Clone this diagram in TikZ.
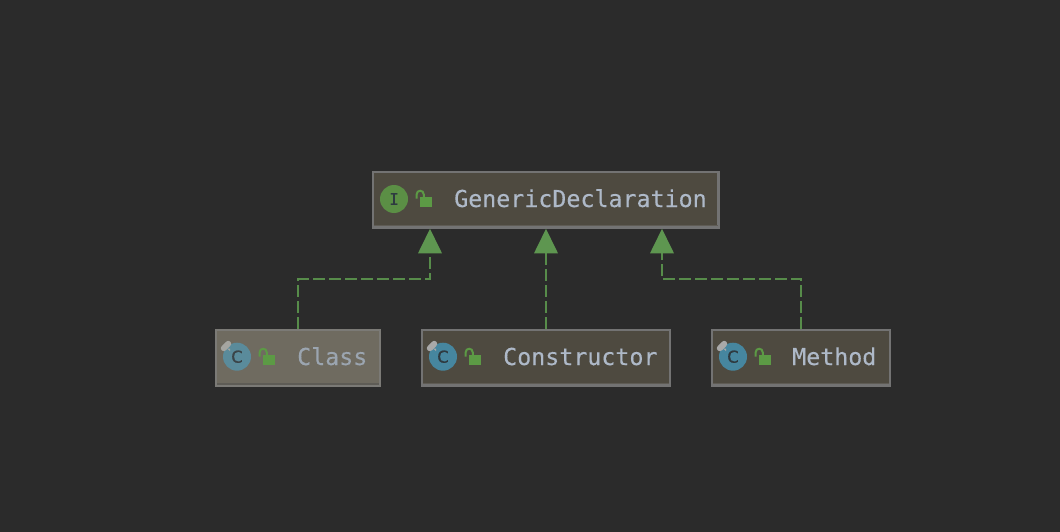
\documentclass[tikz,border=0pt]{standalone}
\usepackage{fontspec}
\setmonofont[FakeBold=0.2]{DejaVu Sans Mono}
\setsansfont[FakeBold=0.4]{DejaVu Sans}
\usetikzlibrary{arrows.meta}
\definecolor{bg}{HTML}{2B2B2B}
\definecolor{boxfill}{HTML}{4E4A40}
\definecolor{boxedge}{HTML}{737373}
\definecolor{boxshadow}{HTML}{5F5C55}
\definecolor{txt}{HTML}{AEB9C8}
\definecolor{grn}{HTML}{5B8F45}
\definecolor{lockgrn}{HTML}{5C9A45}
\definecolor{conn}{HTML}{578C4A}
\definecolor{tipgrn}{HTML}{5E9650}
\definecolor{teal}{HTML}{46869F}
\definecolor{dark}{HTML}{2E3A40}
\definecolor{tag}{HTML}{A9A9A9}
\definecolor{hifill}{HTML}{6F6B60}
\definecolor{hiedge}{HTML}{7B7A76}
\definecolor{hishadow}{HTML}{5E5C56}
\definecolor{hitxt}{HTML}{9BA5B0}
\definecolor{hiteal}{HTML}{5A8B9B}
\definecolor{hitag}{HTML}{A5A5A0}
\definecolor{hidark}{HTML}{3A4448}
\tikzset{
  x=1pt,y=-1pt,
  classbox/.style={draw=boxedge,fill=boxfill,line width=2.3pt,inner sep=0pt,anchor=north west},
  hibox/.style={classbox,draw=hiedge,fill=hifill},
  label/.style={text=txt,font=\fontsize{23.3}{26}\selectfont\ttfamily,inner sep=0pt,anchor=base west},
  hilabel/.style={label,text=hitxt},
  icon/.style={circle,minimum size=28pt,inner sep=0pt,text=dark},
  impl/.style={draw=conn,line width=2.2pt,dash pattern=on 11.8pt off 4.2pt},
}
% lock glyph: body at x..x+12, y..y+10
\newcommand{\lockglyph}[3]{%
  \fill[#3] (#1,#2) rectangle ++(12,10);
  \draw[#3,line width=2pt] (#1-3.4,#2+1.5) -- (#1-3.4,#2-2.5)
    .. controls (#1-3.4,#2-7.5) and (#1+3.8,#2-7.5) .. (#1+3.8,#2-2.5) -- (#1+3.8,#2);
}
\newcommand{\tagglyph}[3]{%
  \draw[#3,line width=6pt,line cap=round] (#1-2.2,#2+2.2) -- (#1+2.2,#2-2.2);
}
\newcommand{\tagnotch}[3]{%
  \fill[#3] (#1+1,#2+2.5) -- (#1+4,#2+2.5) -- (#1+4,#2+5) -- cycle;
}
\begin{document}
\begin{tikzpicture}
\useasboundingbox (0,0) rectangle (1060,532);
\fill[bg] (0,0) rectangle (1060,532);

% boxes
\node[classbox,minimum width=345.5pt,minimum height=55.5pt] (gd) at (371.9,170.9) {};
\node[hibox,minimum width=164pt,minimum height=55.5pt] (cl) at (214.9,328.9) {};
\node[classbox,minimum width=248pt,minimum height=55.5pt] (co) at (420.9,328.9) {};
\node[classbox,minimum width=178pt,minimum height=55.5pt] (me) at (710.9,328.9) {};

% connectors
\coordinate (t1) at (430.3,253);
\coordinate (t2) at (546,253);
\coordinate (t3) at (662.3,253);
\coordinate (a1) at (430,228.8);
\coordinate (a2) at (546,228.8);
\coordinate (a3) at (662,228.8);
\coordinate (b1) at (298.3,328.5);
\coordinate (b2) at (546,328.5);
\coordinate (b3) at (801.3,328.5);
\draw[impl] (b1) -- (298.3,279.3) -- (430.3,279.3) -- (t1);
\draw[impl] (b2) -- (t2);
\draw[impl] (b3) -- (801.3,279.3) -- (662.3,279.3) -- (t3);
\fill[tipgrn] (a1) -- (418,253.3) -- (442,253.3) -- cycle;
\fill[tipgrn] (a2) -- (534,253.3) -- (558,253.3) -- cycle;
\fill[tipgrn] (a3) -- (650,253.3) -- (674,253.3) -- cycle;

% lower shadow lines
\draw[boxshadow,line width=1pt] (374,225.7) -- (717.5,225.7);
\draw[hishadow,line width=1.5pt] (217,383.8) -- (379,383.8);
\draw[boxshadow,line width=1pt] (423,383.8) -- (669,383.8);
\draw[boxshadow,line width=1pt] (713,383.8) -- (889,383.8);

% icons
\node[icon,fill=grn] (gdi) at (394,199) {\fontsize{16}{16}\selectfont\ttfamily I};
\node[icon,fill=hiteal,text=hidark] (cli) at (237,356.7) {\fontsize{16.5}{16}\selectfont\sffamily C};
\node[icon,fill=teal] (coi) at (443,356.7) {\fontsize{16.5}{16}\selectfont\sffamily C};
\node[icon,fill=teal] (mei) at (733,356.7) {\fontsize{16.5}{16}\selectfont\sffamily C};
\tagglyph{226}{346}{hitag}
\tagglyph{432}{346}{tag}
\tagglyph{722}{346}{tag}
\tagnotch{226}{346}{hitag}
\tagnotch{432}{346}{tag}
\tagnotch{722}{346}{tag}

% locks
\lockglyph{420}{197}{lockgrn}
\lockglyph{263}{355}{lockgrn}
\lockglyph{469}{355}{lockgrn}
\lockglyph{759}{355}{lockgrn}

% labels
\node[label] (gdl) at (454,207) {GenericDeclaration};
\node[hilabel] (cll) at (297,365) {Class};
\node[label] (col) at (503,365) {Constructor};
\node[label] (mel) at (792,365) {Method};
\end{tikzpicture}
\end{document}
